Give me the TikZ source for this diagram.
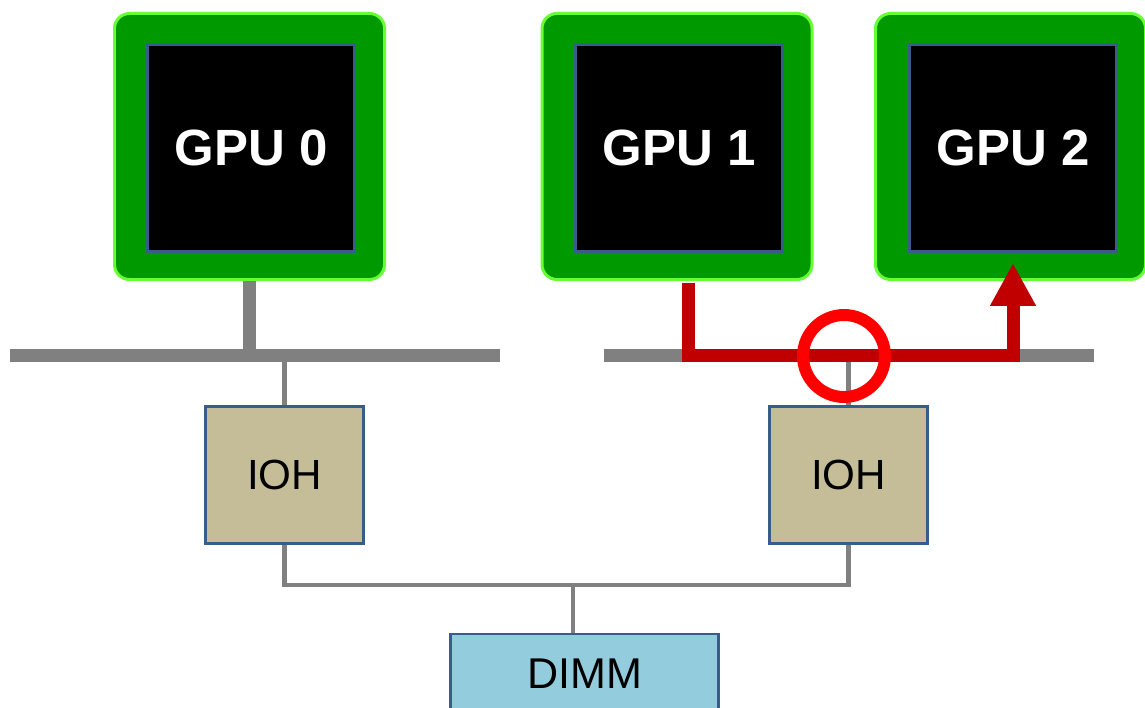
\documentclass[tikz,border=0pt]{standalone}
\usepackage{fontspec}
\setmainfont{Liberation Sans}
\usetikzlibrary{arrows.meta}
\definecolor{gpugreen}{HTML}{009900}
\definecolor{gpuedge}{HTML}{66FF33}
\definecolor{boxblue}{HTML}{385D8A}
\definecolor{iohtan}{HTML}{C4BD97}
\definecolor{dimmblue}{HTML}{93CDDD}
\definecolor{busgray}{HTML}{808080}
\definecolor{pathred}{HTML}{C00000}
\definecolor{ringred}{HTML}{FF0000}
\tikzset{
    gpubox/.style={draw=gpuedge, line width=1.7pt, fill=gpugreen, rounded corners=0.3cm,
        minimum width=5.4cm, minimum height=5.32cm, inner sep=0pt},
    gpucore/.style={draw=boxblue, line width=1.7pt, fill=black, text=white,
        minimum size=4.14cm, inner sep=0pt, font=\bfseries\fontsize{29}{34}\selectfont},
    iohbox/.style={draw=boxblue, line width=1.7pt, fill=iohtan,
        minimum width=3.16cm, minimum height=2.74cm, inner sep=0pt, font=\fontsize{24}{28}\selectfont},
    dimmbox/.style={draw=boxblue, line width=1.7pt, fill=dimmblue,
        minimum width=5.36cm, minimum height=1.6cm, inner sep=0pt, font=\fontsize{24.5}{28}\selectfont},
    bus/.style={draw=busgray, line width=7.4pt},
    wire/.style={draw=busgray, line width=2.3pt},
    hotpath/.style={draw=pathred, line width=7.4pt, line join=miter,
        -{Triangle[width=0.86cm,length=0.86cm]}},
    ring/.style={draw=ringred, line width=6.8pt}
}
\begin{document}
\begin{tikzpicture}
                \useasboundingbox (0,0) rectangle (22.9,14.14);

                \draw node[gpubox] (gpu0) at (4.99,11.21) {};
                \draw node[gpubox] (gpu1) at (13.54,11.21) {};
                \draw node[gpubox] (gpu2) at (20.21,11.21) {};
                \draw node[gpucore] (core0) at (5.02,11.18) {GPU 0};
                \draw node[gpucore] (core1) at (13.58,11.18) {GPU 1};
                \draw node[gpucore] (core2) at (20.26,11.18) {GPU 2};

                \draw node[iohbox] (ioh0) at (5.69,4.64) {IOH};
                \draw node[iohbox] (ioh1) at (16.97,4.64) {IOH};
                \draw node[dimmbox] (dimm) at (11.69,0.66) {DIMM};

                \coordinate (busL0) at (0.2,7.03);
                \coordinate (busL1) at (10,7.03);
                \coordinate (busR0) at (12.08,7.03);
                \coordinate (busR1) at (21.88,7.03);
                \coordinate (memjoin) at (11.46,2.44);

                \draw[bus] (busL0) -- (busL1);
                \draw[bus] (busR0) -- (busR1);
                \draw[draw=busgray, line width=7.9pt] (gpu0.south) -- (gpu0.south |- busL0);

                \draw[wire] (ioh0.north) -- (ioh0.north |- busL0);
                \draw[wire] (ioh1.north) -- (ioh1.north |- busR0);
                \draw[wire] (ioh0.south) -- (ioh0.south |- memjoin) -- (ioh1.south |- memjoin) -- (ioh1.south);
                \draw[wire] (memjoin) -- (memjoin |- dimm.north);

                \coordinate (hot0) at (13.76,8.48);
                \coordinate (hot1) at (20.26,8.88);
                \draw[hotpath] (hot0) |- (busR0 -| hot1) -- (hot1);

                \draw[ring] (16.88,7.02) circle (0.82);
            \end{tikzpicture}
\end{document}
